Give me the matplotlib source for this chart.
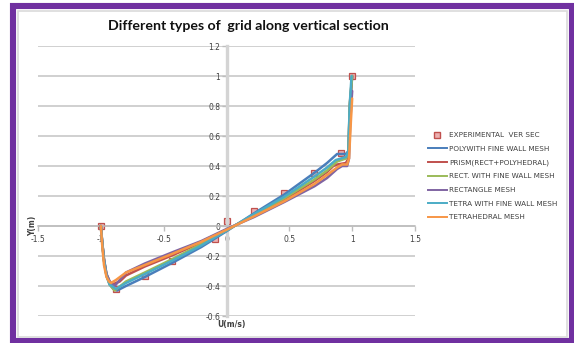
import matplotlib
matplotlib.use("Agg")
import matplotlib.pyplot as plt
from matplotlib.patches import Rectangle
from matplotlib.lines import Line2D

# ---------------- data ----------------
exp_u = [-1.0, -0.88, -0.65, -0.43, -0.09, 0.0, 0.22, 0.46, 0.70, 0.91, 1.0]
exp_y = [0.0, -0.42, -0.33, -0.235, -0.085, 0.035, 0.10, 0.22, 0.355, 0.49, 1.0]

poly_u = [-1.0, -0.99, -0.975, -0.955, -0.93, -0.90, -0.87, -0.80, -0.65, -0.43, -0.20, 0.0, 0.22, 0.46, 0.70, 0.80, 0.88, 0.95, 0.97, 0.98, 1.0]
poly_y = [0.0, -0.10, -0.23, -0.33, -0.39, -0.42, -0.43, -0.40, -0.34, -0.245, -0.14, -0.035, 0.085, 0.21, 0.355, 0.42, 0.48, 0.48, 0.50, 0.75, 1.0]

prism_u = [-1.0, -0.99, -0.975, -0.955, -0.93, -0.91, -0.85, -0.80, -0.65, -0.43, -0.20, 0.0, 0.22, 0.46, 0.70, 0.80, 0.85, 0.88, 0.95, 0.97, 0.98, 1.0]
prism_y = [0.0, -0.10, -0.22, -0.32, -0.37, -0.39, -0.37, -0.33, -0.27, -0.195, -0.11, -0.025, 0.07, 0.175, 0.30, 0.36, 0.40, 0.41, 0.42, 0.45, 0.80, 1.0]

rectf_u = [-1.0, -0.99, -0.975, -0.955, -0.93, -0.89, -0.80, -0.65, -0.43, -0.20, 0.0, 0.22, 0.46, 0.70, 0.80, 0.88, 0.95, 0.97, 0.98, 1.0]
rectf_y = [0.0, -0.10, -0.23, -0.33, -0.39, -0.43, -0.37, -0.31, -0.22, -0.12, -0.03, 0.075, 0.185, 0.31, 0.37, 0.43, 0.45, 0.48, 0.80, 1.0]

rect_u = [-1.0, -0.99, -0.975, -0.955, -0.93, -0.89, -0.80, -0.65, -0.43, -0.20, 0.0, 0.22, 0.46, 0.70, 0.80, 0.88, 0.92, 0.96, 0.975, 0.985, 1.0]
rect_y = [0.0, -0.10, -0.22, -0.32, -0.37, -0.40, -0.31, -0.25, -0.175, -0.10, -0.02, 0.06, 0.16, 0.265, 0.32, 0.38, 0.40, 0.40, 0.45, 0.70, 0.90]

tetf_u = [-1.0, -0.99, -0.975, -0.955, -0.93, -0.88, -0.80, -0.65, -0.43, -0.20, 0.0, 0.22, 0.46, 0.70, 0.80, 0.87, 0.95, 0.97, 0.98, 0.995]
tetf_y = [0.0, -0.10, -0.23, -0.33, -0.39, -0.42, -0.38, -0.32, -0.23, -0.13, -0.03, 0.08, 0.195, 0.33, 0.39, 0.44, 0.46, 0.50, 0.80, 1.0]

tet_u = [-1.0, -0.99, -0.975, -0.955, -0.935, -0.92, -0.88, -0.80, -0.65, -0.43, -0.20, 0.0, 0.22, 0.46, 0.70, 0.80, 0.88, 0.92, 0.96, 0.975, 0.99, 1.0]
tet_y = [0.0, -0.12, -0.26, -0.34, -0.37, -0.38, -0.36, -0.31, -0.26, -0.185, -0.105, -0.025, 0.065, 0.165, 0.28, 0.34, 0.39, 0.41, 0.41, 0.45, 0.70, 0.85]

series = [
    ("POLYWITH FINE WALL MESH", poly_u, poly_y, "#4A7EBB"),
    ("PRISM(RECT+POLYHEDRAL)", prism_u, prism_y, "#C0504D"),
    ("RECT. WITH FINE WALL MESH", rectf_u, rectf_y, "#9BBB59"),
    ("RECTANGLE MESH", rect_u, rect_y, "#8064A2"),
    ("TETRA WITH FINE WALL MESH", tetf_u, tetf_y, "#4BACC6"),
    ("TETRAHEDRAL MESH", tet_u, tet_y, "#F79646"),
]
exp_label = "EXPERIMENTAL  VER SEC"

x_ticks = [-1.5, -1, -0.5, 0, 0.5, 1, 1.5]
x_labels = ["-1.5", "-1", "-0.5", "0", "0.5", "1", "1.5"]
y_ticks = [-0.6, -0.4, -0.2, 0, 0.2, 0.4, 0.6, 0.8, 1, 1.2]
y_labels = ["-0.6", "-0.4", "-0.2", "0", "0.2", "0.4", "0.6", "0.8", "1", "1.2"]

title = "Different types of  grid along vertical section"

# ---------------- figure ----------------
W, H = 574, 343
fig = plt.figure(figsize=(W / 100, H / 100), dpi=100)
fig.patch.set_facecolor("white")

# purple frame
frame = Rectangle((13 / W, 1 - 341 / H), (572 - 13) / W, (341 - 6) / H,
                  transform=fig.transFigure, fill=False, edgecolor="#7030A0",
                  linewidth=4.4, zorder=0)
fig.patches.append(frame)
shadow = Rectangle((17.5 / W, 1 - 337 / H), (567 - 17.5) / W, (337 - 10.5) / H,
                   transform=fig.transFigure, fill=False, edgecolor="#DADADA",
                   linewidth=1.2, zorder=0)
fig.patches.append(shadow)

ax = fig.add_axes([38 / W, 1 - 316 / H, (415 - 38) / W, (316 - 46) / H])
ax.set_xlim(-1.5, 1.5)
ax.set_ylim(-0.6, 1.2)
ax.set_facecolor("none")

for s in ["top", "right"]:
    ax.spines[s].set_visible(False)
ax.spines["left"].set_position(("data", 0))
ax.spines["bottom"].set_position(("data", 0))
ax.spines["left"].set_color("#D4D4D4")
ax.spines["left"].set_linewidth(2.4)
ax.spines["bottom"].set_color("#BDBDBD")
ax.spines["bottom"].set_linewidth(1.1)

ax.set_xticks(x_ticks)
ax.set_xticklabels(x_labels)
ax.set_yticks(y_ticks)
ax.set_yticklabels(y_labels)
ax.tick_params(axis="x", direction="out", length=3.5, width=1.0, color="#BDBDBD",
               labelsize=5.5, labelcolor="#404040", pad=3)
ax.tick_params(axis="y", direction="out", length=3.5, width=1.0, color="#BDBDBD",
               labelsize=5.5, labelcolor="#404040", pad=1)

ax.yaxis.grid(True, color="#C4C4C4", linewidth=1.1)
ax.xaxis.grid(False)
ax.set_axisbelow(True)

ax.plot(exp_u, exp_y, linestyle="none", marker="s", markersize=5,
        markerfacecolor="#EBB0B0", markeredgecolor="#C0504D", markeredgewidth=0.9,
        zorder=2, label=exp_label)
for name, u, y, c in series:
    ax.plot(u, y, color=c, linewidth=1.8, solid_joinstyle="round",
            solid_capstyle="round", zorder=3, label=name)

fig.text(248 / W, 1 - 26 / H, title, ha="center", va="center",
         fontsize=10.2, fontweight="bold", family=["Lato", "DejaVu Sans"], color="#111111")
fig.text(33 / W, 1 - 226 / H, "Y(m)", rotation=90, ha="center", va="center",
         fontsize=5.5, fontweight="bold", color="#404040")
fig.text(217 / W, 1 - 325 / H, "U(m/s)", ha="left", va="center",
         fontsize=5.5, fontweight="bold", color="#404040")

handles = [Line2D([], [], linestyle="none", marker="s", markersize=4,
                  markerfacecolor="#EBB0B0", markeredgecolor="#C0504D")]
labels = [exp_label]
for name, u, y, c in series:
    handles.append(Line2D([], [], color=c, linewidth=1.4))
    labels.append(name)
leg = fig.legend(handles, labels, loc="upper left",
                 bbox_to_anchor=(428 / W, 1 - 132 / H), frameon=False,
                 fontsize=5.2, handlelength=2.6, handletextpad=0.3,
                 labelspacing=1.05, borderaxespad=0, borderpad=0)
for t in leg.get_texts():
    t.set_color("#404040")

fig.savefig("out.png", dpi=100, facecolor="white")
